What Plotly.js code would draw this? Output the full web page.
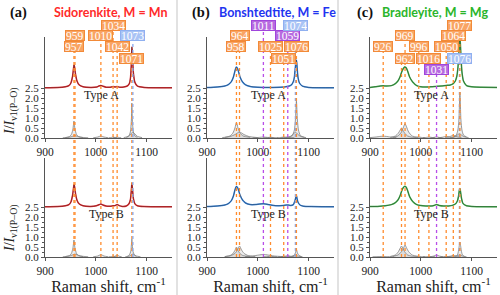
<!DOCTYPE html>
<html><head><meta charset="utf-8">
<script src="https://cdn.plot.ly/plotly-3.0.1.min.js"></script>
<style>html,body{margin:0;padding:0;background:#fff}#chart{width:500px;height:295px}</style>
</head><body><div id="chart"></div>
<script>
// ================= DATA =================
const OFFSET = 2.5;
const panelTags = ['(a)', '(b)', '(c)'];
const panelNames = ['Sidorenkite, M = Mn', 'Bonshtedtite, M = Fe', 'Bradleyite, M = Mg'];
const typeLabels = ['Type A', 'Type B'];
const xTickVals = [900, 1000, 1100];
const yTickVals = [0, 0.5, 1.0, 1.5, 2.0, 2.5];
const yTickText = ['0.0', '0.5', '1.0', '1.5', '2.0', '2.5'];
const yMinorVals = [0.25, 0.75, 1.25, 1.75, 2.25];
const xTitle = 'Raman shift, cm<sup>-1</sup>';
const yTitle = '<i>I</i>/<i>I</i><sub>ν1(P–O)</sub>';

// peak positions marked by dotted lines / labels ('o' orange, 'p' purple, 'b' blue)
const aPeaks = [957, 959, 1010, 1034, 1042, 1071, 1073];
const aKinds = ['o', 'o', 'o', 'o', 'o', 'o', 'b'];
const bPeaks = [958, 964, 1011, 1025, 1051, 1059, 1074, 1076];
const bKinds = ['o', 'o', 'p', 'o', 'o', 'p', 'b', 'o'];
const cPeaks = [926, 962, 969, 996, 1016, 1031, 1050, 1064, 1076, 1077];
const cKinds = ['o', 'o', 'o', 'o', 'o', 'p', 'o', 'o', 'b', 'o'];

// --- (a) Sidorenkite, Type A: measured spectrum (relative intensity) ---
const aA_x = [900,925,940,947,951,954,956,957,958,960,963,967,975,990,1002,1006,1010,1014,1020,1028,1034,1038,1042,1047,1055,1062,1066,1068,1070,1071,1072,1074,1077,1082,1095,1120,1150];
const aA_y = [0.01,0.02,0.06,0.12,0.25,0.55,0.95,1.15,1.08,0.7,0.35,0.16,0.06,0.03,0.05,0.1,0.13,0.09,0.04,0.04,0.07,0.05,0.07,0.04,0.05,0.1,0.22,0.45,1.2,2.05,1.75,0.75,0.28,0.09,0.03,0.01,0.01];
const aA_comps = [
  {x:[940,948,952,955,957,959,962,966,975], y:[0.02,0.07,0.18,0.45,0.85,0.45,0.18,0.07,0.02]},
  {x:[935,948,955,959,963,970,985], y:[0.01,0.04,0.09,0.12,0.09,0.04,0.01]},
  {x:[995,1004,1010,1016,1025], y:[0.01,0.05,0.1,0.05,0.01]},
  {x:[1026,1031,1034,1037,1042], y:[0.01,0.03,0.05,0.03,0.01]},
  {x:[1034,1039,1042,1045,1050], y:[0.01,0.03,0.05,0.03,0.01]},
  {x:[1060,1065,1068,1070,1071,1072,1074,1077,1082], y:[0.03,0.1,0.3,0.9,1.75,0.9,0.3,0.1,0.03]},
  {x:[1055,1064,1069,1073,1077,1082,1091], y:[0.02,0.08,0.2,0.3,0.2,0.08,0.02]}
];
// --- (a) Type B ---
const aB_x = [900,925,940,947,951,954,956,957,958,960,963,967,975,990,1001,1006,1010,1014,1020,1028,1034,1038,1042,1046,1052,1060,1065,1068,1070,1071,1072,1074,1077,1082,1095,1120,1150];
const aB_y = [0.01,0.02,0.06,0.12,0.25,0.55,0.92,1.13,1.05,0.68,0.34,0.16,0.06,0.03,0.06,0.11,0.15,0.1,0.05,0.04,0.06,0.07,0.12,0.07,0.03,0.05,0.15,0.35,0.85,1.17,0.95,0.42,0.16,0.06,0.02,0.01,0.01];
const aB_comps = [
  {x:[940,948,952,955,957,959,962,966,975], y:[0.02,0.07,0.18,0.45,0.85,0.45,0.18,0.07,0.02]},
  {x:[935,948,955,959,963,970,985], y:[0.01,0.05,0.11,0.15,0.11,0.05,0.01]},
  {x:[995,1004,1010,1016,1025], y:[0.01,0.05,0.12,0.05,0.01]},
  {x:[1026,1031,1034,1037,1042], y:[0.01,0.02,0.04,0.02,0.01]},
  {x:[1033,1038,1042,1046,1051], y:[0.01,0.04,0.1,0.04,0.01]},
  {x:[1062,1066,1069,1070,1071,1072,1073,1076,1080], y:[0.03,0.1,0.3,0.6,0.9,0.6,0.3,0.1,0.03]},
  {x:[1058,1066,1070,1073,1076,1080,1088], y:[0.01,0.05,0.1,0.15,0.1,0.05,0.01]}
];
// --- (b) Bonshtedtite, Type A ---
const bA_x = [900,920,935,942,948,952,955,957,958,960,962,965,970,976,985,1000,1015,1030,1045,1055,1062,1067,1070,1072,1073,1074,1075,1076,1077,1079,1082,1088,1100,1125,1150];
const bA_y = [0.02,0.05,0.1,0.17,0.32,0.55,0.85,1.02,1.05,0.98,0.82,0.55,0.3,0.16,0.08,0.04,0.03,0.03,0.04,0.06,0.1,0.18,0.32,0.55,0.8,1.05,1.3,1.4,1.15,0.55,0.25,0.09,0.03,0.01,0.01];
const bA_comps = [
  {x:[935,945,951,955,958,961,965,971,985], y:[0.03,0.1,0.25,0.5,0.78,0.5,0.25,0.1,0.03]},
  {x:[930,945,955,964,973,983,1000], y:[0.02,0.07,0.17,0.3,0.17,0.07,0.02]},
  {x:[990,1003,1011,1019,1032], y:[0.01,0.03,0.05,0.03,0.01]},
  {x:[1010,1019,1025,1031,1040], y:[0.01,0.02,0.04,0.02,0.01]},
  {x:[1038,1046,1051,1056,1064], y:[0.01,0.03,0.05,0.03,0.01]},
  {x:[1046,1054,1059,1064,1072], y:[0.01,0.03,0.05,0.03,0.01]},
  {x:[1062,1068,1072,1074,1076,1078,1080,1084,1092], y:[0.03,0.12,0.4,0.9,1.85,0.9,0.4,0.12,0.03]},
  {x:[1055,1064,1070,1074,1078,1084,1095], y:[0.02,0.08,0.2,0.3,0.2,0.08,0.02]}
];
// --- (b) Type B ---
const bB_x = [900,920,935,942,948,952,955,957,958,960,962,965,970,976,985,995,1004,1011,1018,1028,1040,1050,1056,1060,1065,1070,1073,1075,1076,1077,1079,1083,1090,1105,1150];
const bB_y = [0.02,0.05,0.1,0.17,0.32,0.55,0.85,1.0,1.03,0.98,0.85,0.6,0.35,0.2,0.12,0.12,0.15,0.16,0.14,0.09,0.06,0.08,0.1,0.1,0.08,0.12,0.3,0.5,0.58,0.45,0.25,0.1,0.04,0.02,0.01];
const bB_comps = [
  {x:[935,945,951,955,958,961,965,971,985], y:[0.02,0.07,0.17,0.33,0.5,0.33,0.17,0.07,0.02]},
  {x:[935,947,955,960,964,968,973,981,995], y:[0.02,0.07,0.18,0.35,0.55,0.35,0.18,0.07,0.02]},
  {x:[975,990,1002,1011,1020,1032,1050], y:[0.02,0.05,0.1,0.13,0.1,0.05,0.02]},
  {x:[1012,1020,1025,1030,1038], y:[0.01,0.02,0.04,0.02,0.01]},
  {x:[1040,1047,1051,1055,1062], y:[0.01,0.02,0.04,0.02,0.01]},
  {x:[1046,1054,1059,1064,1072], y:[0.01,0.04,0.07,0.04,0.01]},
  {x:[1066,1071,1074,1076,1078,1081,1086], y:[0.02,0.08,0.2,0.38,0.2,0.08,0.02]},
  {x:[1060,1068,1074,1080,1088], y:[0.01,0.04,0.07,0.04,0.01]}
];
// --- (c) Bradleyite, Type A ---
const cA_x = [900,910,920,926,933,942,950,955,959,962,965,968,971,974,978,984,992,1000,1010,1020,1030,1040,1050,1058,1064,1068,1071,1073,1075,1076,1077,1078,1079,1081,1084,1090,1100,1120,1150];
const cA_y = [0.03,0.06,0.1,0.11,0.1,0.12,0.22,0.35,0.55,0.78,0.95,1.05,1.02,0.85,0.55,0.3,0.12,0.06,0.05,0.06,0.08,0.1,0.13,0.15,0.22,0.35,0.6,1.0,1.7,2.3,2.5,2.2,1.6,0.8,0.35,0.12,0.06,0.04,0.03];
const cA_comps = [
  {x:[900,912,920,926,932,940,952], y:[0.02,0.05,0.08,0.09,0.08,0.05,0.02]},
  {x:[940,950,956,959,962,965,968,974,984], y:[0.03,0.1,0.25,0.38,0.5,0.38,0.25,0.1,0.03]},
  {x:[945,955,962,966,969,972,976,983,995], y:[0.03,0.1,0.3,0.55,0.72,0.55,0.3,0.1,0.03]},
  {x:[984,991,996,1001,1008], y:[0.01,0.03,0.05,0.03,0.01]},
  {x:[1004,1011,1016,1021,1028], y:[0.01,0.03,0.05,0.03,0.01]},
  {x:[1019,1026,1031,1036,1043], y:[0.01,0.03,0.06,0.03,0.01]},
  {x:[1034,1043,1050,1057,1066], y:[0.01,0.04,0.08,0.04,0.01]},
  {x:[1048,1056,1061,1064,1067,1072,1080], y:[0.02,0.06,0.11,0.15,0.11,0.06,0.02]},
  {x:[1058,1067,1072,1076,1080,1085,1094], y:[0.02,0.07,0.15,0.22,0.15,0.07,0.02]},
  {x:[1065,1070,1073,1075,1077,1079,1081,1084,1090], y:[0.05,0.15,0.4,0.9,2.3,0.9,0.4,0.15,0.05]}
];
// --- (c) Type B ---
const cB_x = [900,915,930,942,950,955,959,962,965,968,971,974,978,984,992,1000,1010,1020,1026,1031,1036,1045,1055,1062,1068,1072,1074,1076,1077,1078,1080,1083,1090,1100,1150];
const cB_y = [0.02,0.03,0.06,0.12,0.22,0.35,0.55,0.78,0.95,1.03,1.0,0.82,0.52,0.28,0.12,0.07,0.05,0.05,0.08,0.12,0.08,0.05,0.05,0.08,0.15,0.3,0.5,0.85,0.93,0.8,0.45,0.18,0.06,0.03,0.01];
const cB_comps = [
  {x:[905,918,926,934,947], y:[0.01,0.02,0.03,0.02,0.01]},
  {x:[940,950,956,959,962,965,968,974,984], y:[0.03,0.1,0.27,0.42,0.55,0.42,0.27,0.1,0.03]},
  {x:[945,955,962,966,969,972,976,983,995], y:[0.03,0.1,0.27,0.45,0.6,0.45,0.27,0.1,0.03]},
  {x:[984,991,996,1001,1008], y:[0.01,0.02,0.04,0.02,0.01]},
  {x:[1004,1011,1016,1021,1028], y:[0.01,0.02,0.03,0.02,0.01]},
  {x:[1018,1026,1031,1036,1044], y:[0.01,0.05,0.1,0.05,0.01]},
  {x:[1038,1045,1050,1055,1062], y:[0.01,0.02,0.03,0.02,0.01]},
  {x:[1050,1058,1064,1070,1078], y:[0.01,0.04,0.08,0.04,0.01]},
  {x:[1062,1070,1076,1082,1090], y:[0.01,0.05,0.1,0.05,0.01]},
  {x:[1068,1072,1074,1075,1077,1079,1080,1082,1086], y:[0.03,0.1,0.28,0.45,0.75,0.45,0.28,0.1,0.03]}
];

// ================= LAYOUT / STYLE =================
const W = 500, H = 295;
const px = v => v / W;
const py = v => 1 - v / H;
const colPx = [[45, 172], [207, 334], [370, 497]];
const topPx = [37, 138], botPx = [158, 257];
const xRange = [900, 1150];
const topRange = [0, 5.05], botRange = [0, 4.95];
const specColors = ['#e8262a', '#3585e0', '#3fb34a'];
const titleColors = ['#ff2a2a', '#1f35f0', '#2bb52b'];
const kindStyle = {
  o: {line:'#ff8c2e', fill:'#f9a463', border:'#f28a38'},
  p: {line:'#b84ee8', fill:'#b76ae0', border:'#a045dc'},
  b: {line:'#86a9ee', fill:'#a9c3f5', border:'#8fb0f0'}
};
const rowPx = [null, 25, 36, 47, 58, 69];
const labelRows = [
  {957:3, 959:2, 1010:2, 1034:1, 1042:3, 1071:4, 1073:2},
  {958:3, 964:2, 1011:1, 1025:3, 1051:4, 1059:2, 1074:1, 1076:3},
  {926:3, 962:4, 969:2, 996:3, 1016:4, 1031:5, 1050:3, 1064:2, 1076:4, 1077:1}
];
const labelShift = [{}, {}, {962:3}];
const typeLabelX = [[1012, 1022], [1022, 1022], [1022, 1022]];
const tagPx = [8, 190, 355], namePx = [52, 217, 380];
const serif = 'Liberation Serif';

const colPeaks = [aPeaks, bPeaks, cPeaks];
const colKinds = [aKinds, bKinds, cKinds];
const spectra = [
  [{x:aA_x, y:aA_y, comps:aA_comps}, {x:aB_x, y:aB_y, comps:aB_comps}],
  [{x:bA_x, y:bA_y, comps:bA_comps}, {x:bB_x, y:bB_y, comps:bB_comps}],
  [{x:cA_x, y:cA_y, comps:cA_comps}, {x:cB_x, y:cB_y, comps:cB_comps}]
];

const traces = [];
const layout = {
  width: W, height: H, margin: {l:0, r:0, t:0, b:0},
  paper_bgcolor: '#fff', plot_bgcolor: 'rgba(0,0,0,0)',
  showlegend: false, shapes: [], annotations: []
};

function axId(col, row) { return col + 1 + row * 3; }
function sfx(n) { return n === 1 ? '' : String(n); }

for (let c = 0; c < 3; c++) {
  for (let r = 0; r < 2; r++) {
    const n = axId(c, r), s = sfx(n);
    const yp = r === 0 ? topPx : botPx;
    const xa = {
      domain: [px(colPx[c][0]), px(colPx[c][1])], range: xRange, anchor: 'y' + s,
      showline: true, linecolor: '#555', linewidth: 1, showgrid: false, zeroline: false,
      ticks: 'outside', ticklen: 3, tickcolor: '#555', tickvals: xTickVals,
      tickfont: {family: serif, size: 11.5, color: '#222'}
    };
    if (r === 1) xa.title = {text: xTitle, font: {family: serif, size: 16, color: '#222'}, standoff: 1};
    layout['xaxis' + s] = xa;
    layout['yaxis' + s] = {
      domain: [py(yp[1]), py(yp[0])], range: r === 0 ? topRange : botRange, anchor: 'x' + s,
      showline: true, linecolor: '#555', linewidth: 1, showgrid: false, zeroline: false,
      ticks: 'outside', ticklen: 3, tickcolor: '#555', tickvals: yTickVals, ticktext: yTickText,
      minor: {tickvals: yMinorVals, ticks: 'outside', ticklen: 2, tickcolor: '#555'},
      tickfont: {family: serif, size: 11, color: '#222'}
    };
    const sp = spectra[c][r];
    sp.comps.forEach(cp => traces.push({
      x: cp.x, y: cp.y, xaxis: 'x' + s, yaxis: 'y' + s, mode: 'lines', type: 'scatter',
      line: {color: '#808080', width: 0.8, shape: 'spline', smoothing: 0.6},
      fill: 'tozeroy', fillcolor: 'rgba(150,150,150,0.18)', hoverinfo: 'skip'
    }));
    const yy = sp.y.map(v => v + OFFSET);
    traces.push({x: sp.x, y: yy, xaxis: 'x' + s, yaxis: 'y' + s, mode: 'lines', type: 'scatter',
      line: {color: specColors[c], width: 1.5, shape: 'spline', smoothing: 0.6}, hoverinfo: 'skip'});
    traces.push({x: sp.x, y: yy, xaxis: 'x' + s, yaxis: 'y' + s, mode: 'lines', type: 'scatter',
      line: {color: 'rgba(40,40,40,0.75)', width: 0.6, shape: 'spline', smoothing: 0.6}, hoverinfo: 'skip'});
    layout.annotations.push({
      x: typeLabelX[c][r], y: 2.15, xref: 'x' + s, yref: 'y' + s, text: typeLabels[r], showarrow: false,
      font: {family: serif, size: 12, color: '#222'}, xanchor: 'center', yanchor: 'middle'
    });
  }
  // dotted peak lines and labels
  const xs = 'x' + sfx(axId(c, 0));
  colPeaks[c].forEach((p, i) => {
    const st = kindStyle[colKinds[c][i]];
    const row = labelRows[c][p];
    layout.shapes.push({type: 'line', xref: xs, yref: 'paper', x0: p, x1: p,
      y0: py(botPx[1]), y1: py(rowPx[row]), layer: 'above',
      line: {color: st.line, width: 1.3, dash: 'dot'}});
    layout.annotations.push({x: p, xref: xs, y: py(rowPx[row]), yref: 'paper', text: String(p),
      showarrow: false, xanchor: 'center', yanchor: 'middle', xshift: labelShift[c][p] || 0,
      font: {family: serif, size: 11.5, color: '#ffffff'}, bgcolor: st.fill, bordercolor: st.border,
      borderwidth: 1, borderpad: 0, height: 9});
  });
  layout.annotations.push({x: px(tagPx[c]), y: py(12.5), xref: 'paper', yref: 'paper', text: '<b>' + panelTags[c] + '</b>',
    showarrow: false, xanchor: 'left', yanchor: 'middle', font: {family: serif, size: 14.5, color: '#111'}});
  layout.annotations.push({x: px(namePx[c]), y: py(12.5), xref: 'paper', yref: 'paper', text: '<b>' + panelNames[c] + '</b>',
    showarrow: false, xanchor: 'left', yanchor: 'middle', font: {family: 'Lato', size: 12.5, color: titleColors[c]}});
}
// y-axis titles
[111, 228].forEach(v => layout.annotations.push({x: px(11), y: py(v), xref: 'paper', yref: 'paper',
  text: yTitle, textangle: -90, showarrow: false, xanchor: 'center', yanchor: 'middle',
  font: {family: serif, size: 14, color: '#222'}}));
// panel separators
[177, 338].forEach(v => layout.shapes.push({type: 'line', xref: 'paper', yref: 'paper',
  x0: px(v), x1: px(v), y0: 0, y1: 1, layer: 'below', line: {color: '#e2e2e2', width: 2}}));

Plotly.newPlot('chart', traces, layout, {staticPlot: true, displayModeBar: false});
</script>
</body></html>
